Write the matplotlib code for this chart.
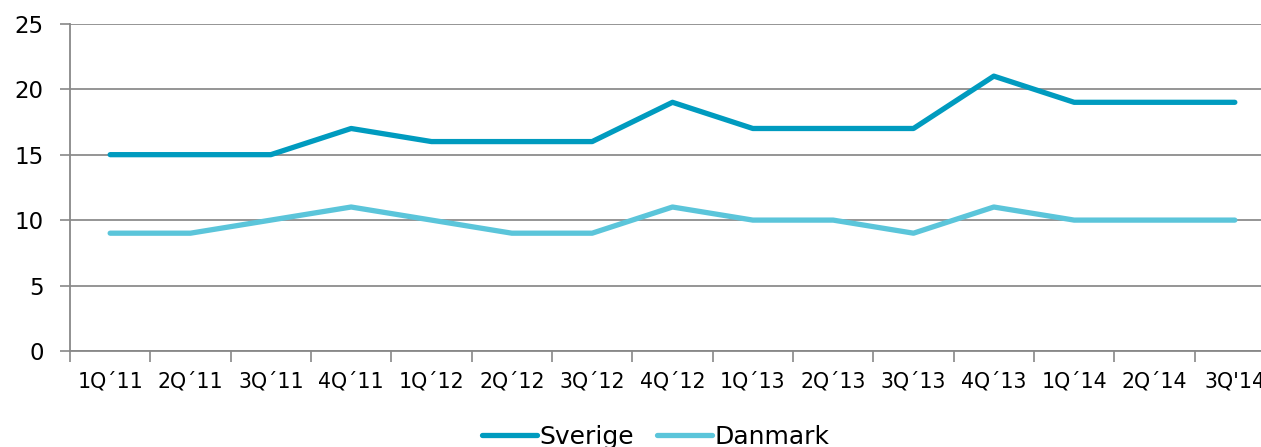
import numpy as np
import matplotlib.pyplot as plt

quarters = ["1Q´11", "2Q´11", "3Q´11", "4Q´11", "1Q´12", "2Q´12", "3Q´12", "4Q´12",
            "1Q´13", "2Q´13", "3Q´13", "4Q´13", "1Q´14", "2Q´14", "3Q'14"]
sverige = [15, 15, 15, 17, 16, 16, 16, 19, 17, 17, 17, 21, 19, 19, 19]
danmark = [9, 9, 10, 11, 10, 9, 9, 11, 10, 10, 9, 11, 10, 10, 10]

plt.rcParams['font.family'] = ['DejaVu Sans']

fig = plt.figure(figsize=(12.61, 4.47), dpi=100)
ax = fig.add_axes([0.0555, 0.2148, 0.9556, 0.732])

x = np.arange(len(quarters))
ax.plot(x, sverige, color="#009bbf", lw=3.8, solid_capstyle="round", label="Sverige")
ax.plot(x, danmark, color="#5bc5da", lw=3.8, solid_capstyle="round", label="Danmark")

ax.set_xlim(-0.5, len(quarters) - 0.5)
ax.set_ylim(0, 25)
ax.set_yticks(range(0, 26, 5))
ax.tick_params(axis="y", labelsize=16.5, length=7, width=1.2, color="#888888", pad=12)
ax.grid(axis="y", color="#8c8c8c", lw=1.3)
ax.set_axisbelow(True)

ax.set_xticks(x)
ax.set_xticklabels(quarters)
ax.set_xticks(np.arange(-0.5, len(quarters)), minor=True)
ax.tick_params(axis="x", which="major", length=0, labelsize=14.8, pad=26)
ax.tick_params(axis="x", which="minor", length=8, width=1.2, color="#888888", direction="out")
for lab in ax.get_xticklabels():
    lab.set_verticalalignment("baseline")

for s in ["top", "right"]:
    ax.spines[s].set_visible(False)
for s in ["left", "bottom"]:
    ax.spines[s].set_color("#888888")
    ax.spines[s].set_linewidth(1.3)

leg = fig.legend(loc="lower center", bbox_to_anchor=(0.52, -0.055), ncol=2, frameon=False,
                 prop={"size": 18}, handlelength=2.2, handletextpad=0.1, columnspacing=0.9)

fig.savefig("out.png", dpi=100)
